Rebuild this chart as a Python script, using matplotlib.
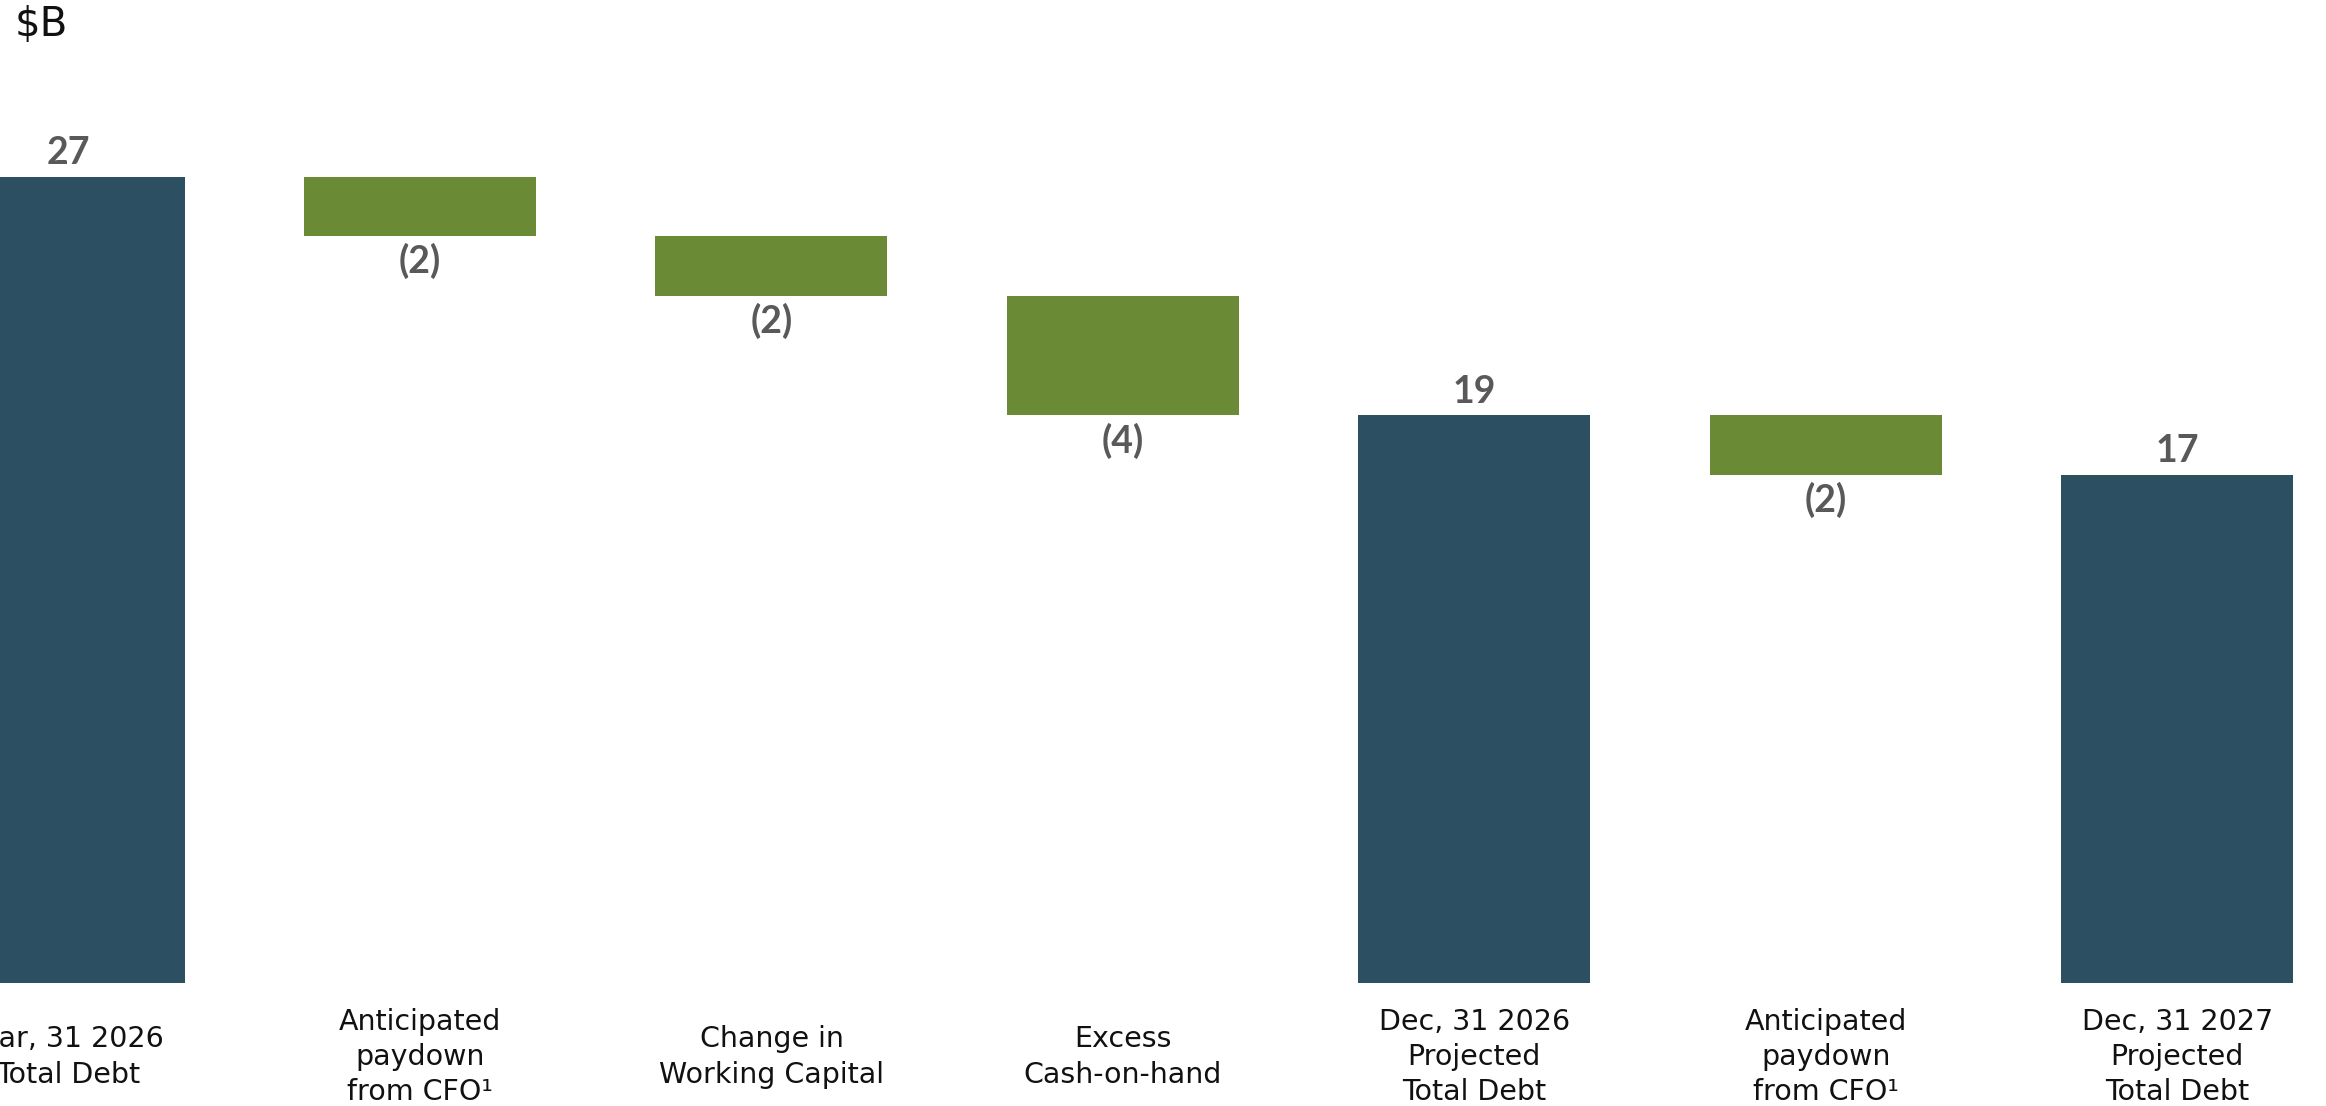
import matplotlib
matplotlib.use("Agg")
import matplotlib.pyplot as plt

plt.rcParams['font.family'] = ['DejaVu Sans']

# Debt bridge, $B
categories = [
    "Mar, 31 2026\nTotal Debt",
    "Anticipated\npaydown\nfrom CFO\u00b9",
    "Change in\nWorking Capital",
    "Excess\nCash-on-hand",
    "Dec, 31 2026\nProjected\nTotal Debt",
    "Anticipated\npaydown\nfrom CFO\u00b9",
    "Dec, 31 2027\nProjected\nTotal Debt",
]
values = [27, -2, -2, -4, 19, -2, 17]
is_total = [True, False, False, False, True, False, True]

total_color = "#2D4F62"
change_color = "#6A8A35"
value_color = "#595959"

fig = plt.figure(figsize=(23.26, 11.06), dpi=100)
ax = fig.add_axes([0, 0, 1, 1])
ax.set_axis_off()

value_font = dict(fontsize=27, fontweight="bold", color=value_color,
                  family=["Lato", "DejaVu Sans"])

bar_w = 0.66
level = 0
for i, (v, tot) in enumerate(zip(values, is_total)):
    if tot:
        ax.bar(i, v, width=bar_w, bottom=0, color=total_color, linewidth=0)
        ax.annotate(f"{v}", (i, v), xytext=(0, 5), textcoords="offset points",
                    ha="center", va="bottom", **value_font)
        level = v
    else:
        top = level
        level = level + v
        ax.bar(i, top - level, width=bar_w, bottom=level, color=change_color, linewidth=0)
        ax.annotate(f"({abs(v)})", (i, level), xytext=(0, -5), textcoords="offset points",
                    ha="center", va="top", **value_font)

for i, lab in enumerate(categories):
    ax.text(i, -2.48, lab, ha="center", va="center", fontsize=20.5,
            color="#111111", linespacing=1.33)

ax.set_xlim(-0.195, 6.423)
ax.set_ylim(-4.118, 32.91)

fig.text(15 / 2326, 1 - 36 / 1106, "$B", ha="left", va="baseline",
         fontsize=29, color="#111111")

fig.savefig("out.png", dpi=100)
